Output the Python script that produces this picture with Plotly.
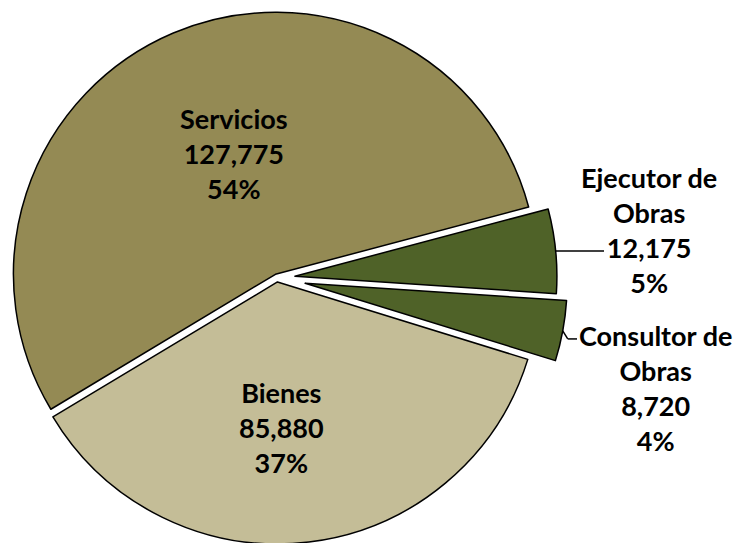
import math
import plotly.graph_objects as go

# datos del gráfico
categorias = ["Servicios", "Ejecutor de Obras", "Consultor de Obras", "Bienes"]
valores = [127775, 12175, 8720, 85880]
colores = ["#948A54", "#4F6228", "#4F6228", "#C4BD97"]

# estilo / geometría (px de la página de referencia)
OFFSET = 8            # margen por defecto del <body> en la página html
W, H = 741 - OFFSET, 543
CENTRO = (277 - OFFSET, 278 - OFFSET)
RADIO = 262
SEPARACION_PX = [4, 18, 28.6, 4]
ROTACION = -121
TRANSPARENTE = "rgba(0,0,0,0)"
FUENTE = dict(family="Lato", size=27, color="black", weight="bold")

# posición del centro de cada etiqueta (px de la referencia)
POS_ETIQUETAS = [(234, 153), (649, 230), (655, 388), (281, 427)]

total = sum(valores)
porcentajes = [round(v / total * 100) for v in valores]


def _angulo_medio(i: int) -> float:
    acumulado = sum(valores[:i]) + valores[i] / 2
    return math.radians(ROTACION + 360 * acumulado / total)


def _desplazado(i: int, dist: float) -> tuple[float, float]:
    ang = _angulo_medio(i)
    return CENTRO[0] + dist * math.sin(ang), CENTRO[1] - dist * math.cos(ang)


def _dominio(centro: tuple[float, float], medio: float) -> dict:
    x, y = centro
    return dict(
        x=[(x - medio) / W, (x + medio) / W],
        y=[1 - (y + medio) / H, 1 - (y - medio) / H],
    )


def _paper(px: float, py: float) -> tuple[float, float]:
    return px / W, 1 - py / H


def _torta(visibles: list[int], pull, dominio: dict) -> go.Pie:
    n = len(valores)
    return go.Pie(
        labels=categorias,
        values=valores,
        sort=False,
        direction="clockwise",
        rotation=ROTACION,
        pull=pull,
        domain=dominio,
        marker=dict(
            colors=[colores[i] if i in visibles else TRANSPARENTE for i in range(n)],
            line=dict(
                color="black",
                width=[1.5 if i in visibles else 0 for i in range(n)],
            ),
        ),
        textinfo="none",
        hoverinfo=["label+value+percent" if i in visibles else "none" for i in range(n)],
        showlegend=False,
    )


fig = go.Figure()

# Servicios y Bienes (apenas separadas)
p_princ = SEPARACION_PX[0] / RADIO
fig.add_trace(
    _torta(
        [0, 3],
        [p_princ if i in (0, 3) else 0 for i in range(len(valores))],
        _dominio(CENTRO, RADIO * (1 + p_princ)),
    )
)

# Ejecutor y Consultor de Obras (porciones extraídas)
for i in (1, 2):
    fig.add_trace(_torta([i], 0, _dominio(_desplazado(i, SEPARACION_PX[i]), RADIO)))

# etiquetas de datos
for i, (tx, ty) in enumerate(POS_ETIQUETAS):
    texto = categorias[i].replace(" Obras", "<br>Obras")
    x, y = _paper(tx - OFFSET, ty - OFFSET)
    fig.add_annotation(
        x=x, y=y, xref="paper", yref="paper",
        xanchor="center", yanchor="middle",
        text=f"{texto}<br>{valores[i]:,}<br>{porcentajes[i]}%",
        showarrow=False, font=FUENTE, align="center",
    )

# líneas guía
linea = dict(color="black", width=1.5)
ex, ey = _desplazado(1, RADIO + SEPARACION_PX[1])
fig.add_shape(type="line", xref="paper", yref="paper",
              x0=_paper(ex, ey)[0], y0=_paper(ex, ey)[1],
              x1=_paper(604 - OFFSET, ey)[0], y1=_paper(604 - OFFSET, ey)[1], line=linea)

ex, ey = _desplazado(2, RADIO + SEPARACION_PX[2])
codo = (ex + 5, ey + 8)
fig.add_shape(type="line", xref="paper", yref="paper",
              x0=_paper(ex, ey)[0], y0=_paper(ex, ey)[1],
              x1=_paper(*codo)[0], y1=_paper(*codo)[1], line=linea)
fig.add_shape(type="line", xref="paper", yref="paper",
              x0=_paper(*codo)[0], y0=_paper(*codo)[1],
              x1=_paper(577 - OFFSET, codo[1])[0], y1=_paper(577 - OFFSET, codo[1])[1], line=linea)

fig.update_layout(
    width=W,
    height=H,
    margin=dict(l=0, r=0, t=0, b=0),
    paper_bgcolor="white",
    plot_bgcolor="white",
    showlegend=False,
)

fig.write_html("out.html")
